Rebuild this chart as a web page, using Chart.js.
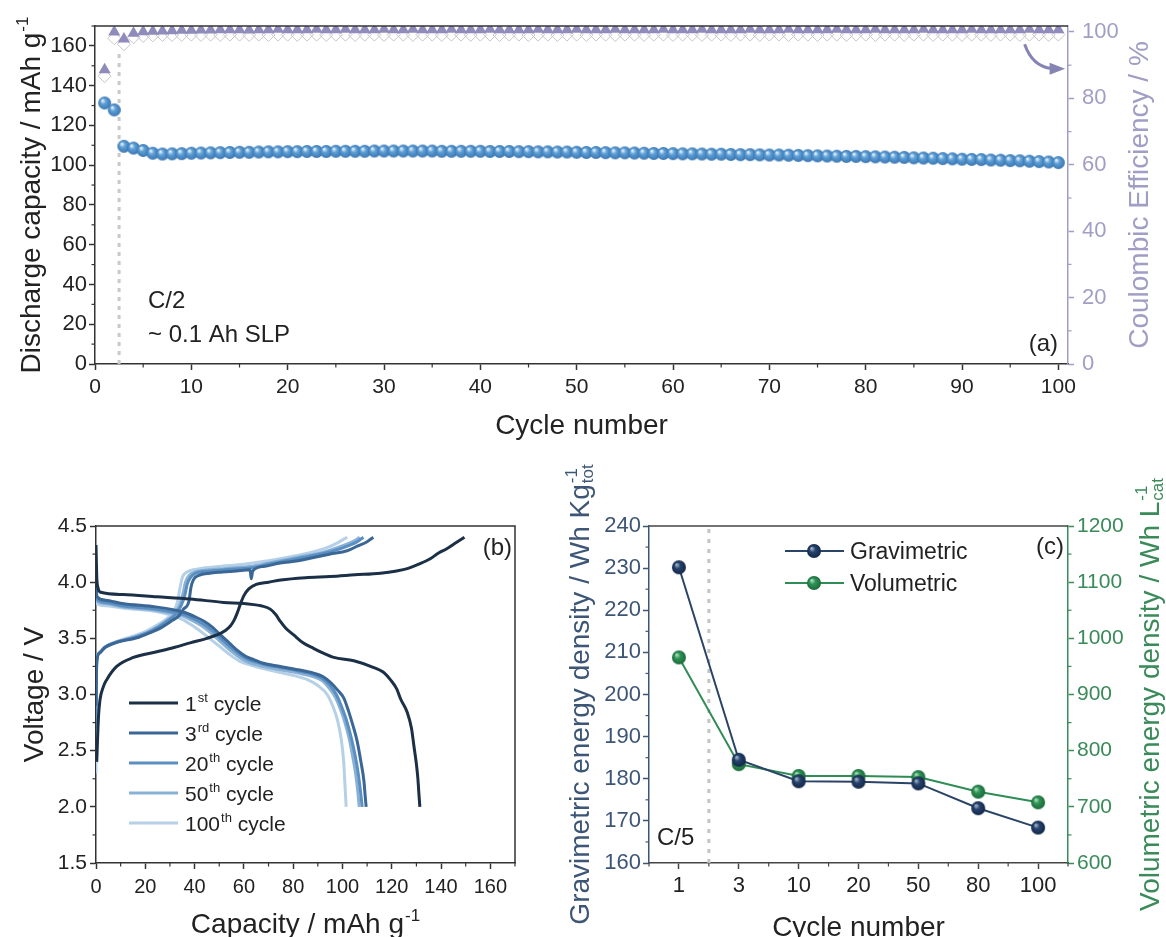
<!DOCTYPE html>
<html>
<head>
<meta charset="utf-8">
<script src="https://cdn.jsdelivr.net/npm/chart.js@4.4.1/dist/chart.umd.min.js"></script>
<style>
html, body { margin: 0; padding: 0; background: #fff; }
#wrap { position: relative; width: 1166px; height: 937px; overflow: hidden; }
canvas { position: absolute; }
</style>
</head>
<body>
<div id="wrap">
  <canvas id="chartA" width="1166" height="460" style="left:0;top:0;width:1166px;height:460px"></canvas>
  <canvas id="chartB" width="560" height="477" style="left:0;top:460px;width:560px;height:477px"></canvas>
  <canvas id="chartC" width="606" height="477" style="left:560px;top:460px;width:606px;height:477px"></canvas>
</div>
<script>
// ---- (a) cycling data ----
const cycles = Array.from({ length: 100 }, (_, i) => i + 1);

const capacity = [
  131.3, 127.8, 109.5, 108.6, 107.4, 106.0, 105.6, 105.7, 105.8, 106.0,
  106.1, 106.2, 106.3, 106.4, 106.5, 106.5, 106.6, 106.7, 106.7, 106.8,
  106.8, 106.9, 106.9, 106.9, 107.0, 107.0, 107.0, 107.0, 107.1, 107.1,
  107.1, 107.1, 107.1, 107.1, 107.1, 107.0, 107.0, 107.0, 107.0, 107.0,
  106.9, 106.9, 106.9, 106.8, 106.8, 106.7, 106.7, 106.6, 106.6, 106.5,
  106.4, 106.4, 106.3, 106.2, 106.2, 106.1, 106.0, 105.9, 105.9, 105.8,
  105.7, 105.7, 105.6, 105.5, 105.5, 105.4, 105.3, 105.3, 105.2, 105.1,
  105.1, 105.0, 104.9, 104.8, 104.7, 104.6, 104.5, 104.4, 104.4, 104.3,
  104.2, 104.1, 104.0, 103.9, 103.7, 103.6, 103.5, 103.3, 103.2, 103.0,
  102.9, 102.8, 102.6, 102.5, 102.3, 102.2, 102.0, 101.8, 101.6, 101.3
];

const ceFilled = [
  88.6, 100.0, 97.9, 99.6, 100.1, 100.2, 100.3, 100.4, 100.5, 100.5,
  100.6, 100.6, 100.7, 100.7, 100.7, 100.6, 100.7, 100.7, 100.8, 100.7,
  100.7, 100.7, 100.8, 100.7, 100.7, 100.8, 100.7, 100.7, 100.7, 100.8,
  100.7, 100.7, 100.8, 100.7, 100.7, 100.7, 100.8, 100.7, 100.7, 100.7,
  100.8, 100.7, 100.7, 100.7, 100.7, 100.8, 100.7, 100.7, 100.7, 100.8,
  100.7, 100.7, 100.7, 100.8, 100.7, 100.7, 100.7, 100.7, 100.8, 100.7,
  100.7, 100.7, 100.8, 100.7, 100.7, 100.7, 100.7, 100.8, 100.7, 100.7,
  100.7, 100.8, 100.7, 100.7, 100.7, 100.7, 100.8, 100.7, 100.7, 100.7,
  100.8, 100.7, 100.7, 100.7, 100.7, 100.8, 100.7, 100.7, 100.7, 100.7,
  100.8, 100.7, 100.7, 100.7, 100.7, 100.7, 100.8, 100.7, 100.7, 100.7
];

const ceOpen = [
  86.7, 98.1, 96.3, 98.4, 98.8, 99.0, 99.1, 99.1, 99.1, 99.2,
  99.1, 99.2, 99.1, 99.2, 99.2, 99.1, 99.2, 99.1, 99.2, 99.2,
  99.1, 99.2, 99.2, 99.1, 99.2, 99.2, 99.1, 99.2, 99.2, 99.1,
  99.2, 99.2, 99.1, 99.2, 99.2, 99.1, 99.2, 99.2, 99.1, 99.2,
  99.2, 99.1, 99.2, 99.2, 99.1, 99.2, 99.2, 99.1, 99.2, 99.2,
  99.1, 99.2, 99.2, 99.1, 99.2, 99.2, 99.1, 99.2, 99.2, 99.1,
  99.2, 99.2, 99.1, 99.2, 99.2, 99.1, 99.2, 99.2, 99.1, 99.2,
  99.2, 99.1, 99.2, 99.2, 99.1, 99.2, 99.2, 99.1, 99.2, 99.2,
  99.1, 99.2, 99.2, 99.1, 99.2, 99.2, 99.1, 99.2, 99.2, 99.1,
  99.2, 99.2, 99.1, 99.2, 99.2, 99.1, 99.2, 99.2, 99.1, 99.2
];

// ---- (b) voltage profiles, [capacity, voltage] ----
const c1Charge = [[0.3,2.4],[1,2.8],[1.6,2.95],[3,3.07],[4.3,3.13],[8.4,3.25],[15.2,3.33],[24.7,3.38],[32,3.42],[38.2,3.46],[45,3.5],[49,3.53],[52.5,3.57],[54.5,3.61],[56,3.66],[57.2,3.72],[58.5,3.8],[60,3.88],[62,3.94],[65,3.98],[70,4.0],[75,4.02],[85,4.04],[95,4.05],[105,4.065],[115.4,4.08],[122,4.1],[126.3,4.12],[131,4.16],[135.8,4.21],[139,4.26],[142.5,4.3],[146,4.35],[149.5,4.4]];
const c1Discharge = [[0,4.33],[0.3,4.05],[0.8,3.95],[1.9,3.91],[11,3.89],[24.7,3.87],[38.2,3.85],[51.8,3.82],[60,3.81],[64,3.8],[67,3.79],[70.7,3.76],[73,3.71],[74.8,3.65],[77,3.59],[80.2,3.53],[84,3.46],[88.3,3.41],[92,3.37],[96.5,3.33],[104.6,3.3],[112.7,3.24],[116.5,3.2],[119.5,3.13],[122,3.05],[123.6,2.96],[126.3,2.84],[128,2.7],[129,2.54],[130,2.38],[130.6,2.25],[131,2.12],[131.4,2.0]];
const c3Charge = [[0,2.9],[0.2,3.2],[0.4,3.31],[1.5,3.37],[3.8,3.42],[7.9,3.46],[17.4,3.51],[22,3.55],[26.8,3.6],[31,3.66],[33.6,3.7],[35.5,3.76],[37.7,3.83],[38.5,3.95],[39.5,4.02],[41.7,4.06],[46,4.08],[51.2,4.09],[57,4.1],[62.5,4.11],[63,4.03],[63.6,4.1],[68,4.14],[74.8,4.17],[82,4.19],[88.3,4.22],[95,4.25],[101.9,4.28],[106,4.32],[110,4.36],[112.5,4.4]];
const c3Discharge = [[0,4.12],[0.2,3.92],[0.4,3.87],[3.8,3.84],[10.6,3.81],[24.1,3.78],[32.3,3.75],[36,3.73],[40.4,3.69],[44,3.65],[47.2,3.6],[50.5,3.53],[54,3.46],[57.5,3.39],[60.7,3.34],[64,3.31],[67.5,3.28],[74.8,3.25],[82,3.22],[88.3,3.19],[92,3.16],[95,3.11],[98,3.04],[100.5,2.97],[102.5,2.85],[104.3,2.72],[105.9,2.59],[107.5,2.4],[108.7,2.23],[109.2,2.1],[109.6,2.0]];
const c20Charge = [[0,2.7],[0.1,3.1],[0.3,3.3],[1.4,3.37],[3.6,3.42],[7.5,3.46],[16,3.51],[21,3.55],[26,3.61],[30,3.67],[32.5,3.72],[34.5,3.79],[36,3.88],[37,3.98],[38.3,4.04],[40.5,4.08],[46,4.1],[52,4.11],[58,4.12],[64,4.13],[70,4.16],[77,4.19],[84,4.22],[91,4.25],[98,4.29],[103,4.33],[106,4.36],[108.5,4.4]];
const c20Discharge = [[0,4.1],[0.2,3.9],[0.4,3.85],[3.8,3.82],[10.6,3.79],[24,3.76],[32,3.73],[36,3.71],[40,3.67],[44,3.62],[47,3.57],[50.5,3.5],[54,3.43],[57.5,3.37],[61,3.32],[64.5,3.29],[68,3.27],[75,3.24],[82,3.21],[88,3.18],[92,3.14],[95,3.08],[97.5,3.0],[99.5,2.9],[101.5,2.78],[103.5,2.62],[105.2,2.45],[106.5,2.28],[107.4,2.12],[108,2.0]];
const c50Charge = [[0,2.5],[0.1,3.0],[0.3,3.3],[1.3,3.37],[3.5,3.42],[7.2,3.46],[15.5,3.51],[20.5,3.55],[25.5,3.61],[29.5,3.67],[32,3.72],[34,3.8],[35.3,3.9],[36.3,4.0],[37.8,4.06],[40,4.09],[46,4.11],[52,4.12],[58,4.13],[64,4.145],[70,4.17],[77,4.2],[84,4.23],[91,4.26],[97,4.3],[102,4.34],[105,4.37],[107,4.4]];
const c50Discharge = [[0,4.08],[0.2,3.88],[0.4,3.83],[3.8,3.81],[10.6,3.78],[24,3.75],[31,3.72],[35,3.7],[39,3.66],[43,3.61],[46.5,3.55],[50,3.48],[53.5,3.41],[57,3.35],[60.5,3.3],[64,3.27],[68,3.25],[75,3.22],[82,3.19],[88,3.16],[92,3.12],[94.5,3.06],[97,2.98],[99,2.88],[101,2.75],[102.8,2.6],[104.3,2.43],[105.5,2.27],[106.3,2.12],[106.8,2.0]];
const c100Charge = [[0,2.3],[0.1,2.9],[0.3,3.3],[1.3,3.37],[3.5,3.42],[7,3.46],[15,3.52],[20,3.56],[25,3.62],[29,3.68],[31.5,3.74],[33,3.82],[34,3.94],[35,4.04],[37,4.09],[42,4.12],[50,4.14],[60,4.16],[70,4.19],[80,4.23],[88,4.27],[94,4.31],[98,4.35],[101.9,4.4]];
const c100Discharge = [[0,4.06],[0.2,3.86],[0.4,3.81],[3.8,3.79],[10.6,3.77],[24,3.74],[30,3.71],[34,3.68],[38,3.63],[42,3.57],[46,3.5],[50,3.43],[54,3.36],[58,3.3],[63,3.26],[70,3.22],[80,3.17],[86,3.13],[90,3.08],[93.8,3.0],[96,2.9],[98,2.77],[99.5,2.6],[100.5,2.4],[101,2.2],[101.5,2.0]];

// ---- (c) energy density ----
const cycleLabels = ['1', '3', '10', '20', '50', '80', '100'];
const gravimetric = [230.2, 184.5, 179.4, 179.3, 178.9, 173.0, 168.4];
const volumetric = [966, 776, 755, 755, 753, 727, 708];

const FONT = '"Liberation Sans", Arial, Helvetica, sans-serif';
Chart.defaults.font.family = FONT;
Chart.defaults.font.size = 20;
Chart.defaults.color = '#222';

// shaded ball used as point marker
function sphere(r, light, base, dark) {
  const c = document.createElement('canvas');
  c.width = c.height = Math.ceil(2 * r + 2);
  const g = c.getContext('2d');
  const m = c.width / 2;
  const grad = g.createRadialGradient(m - r * 0.35, m - r * 0.4, r * 0.05, m, m, r);
  grad.addColorStop(0, light);
  grad.addColorStop(0.4, base);
  grad.addColorStop(1, dark);
  g.fillStyle = grad;
  g.beginPath();
  g.arc(m, m, r, 0, Math.PI * 2);
  g.fill();
  return c;
}

// text with superscripts / subscripts
function rich(ctx, parts, x, y, o) {
  const size = o.size || 28, small = Math.round(size * 0.62);
  ctx.save();
  ctx.translate(x, y);
  if (o.rotate) ctx.rotate(o.rotate);
  ctx.fillStyle = o.color || '#222';
  ctx.textBaseline = 'alphabetic';
  ctx.textAlign = 'left';
  const widths = parts.map(p => {
    if (typeof p === 'string') {
      ctx.font = size + 'px ' + FONT;
      return ctx.measureText(p).width;
    }
    ctx.font = small + 'px ' + FONT;
    return Math.max(p.sup ? ctx.measureText(p.sup).width : 0, p.sub ? ctx.measureText(p.sub).width : 0) + 1;
  });
  const total = widths.reduce((a, b) => a + b, 0);
  let cx = o.align === 'left' ? 0 : o.align === 'right' ? -total : -total / 2;
  const base = size * 0.36;
  parts.forEach((p, i) => {
    if (typeof p === 'string') {
      ctx.font = size + 'px ' + FONT;
      ctx.fillText(p, cx, base);
    } else {
      ctx.font = small + 'px ' + FONT;
      if (p.sup) ctx.fillText(p.sup, cx + 1, base - size * 0.42);
      if (p.sub) ctx.fillText(p.sub, cx + 1, base + size * 0.13);
    }
    cx += widths[i];
  });
  ctx.restore();
}

// minor tick marks between major ones
const minorTicks = {
  id: 'minorTicks',
  afterDraw(chart, args, opts) {
    const ctx = chart.ctx;
    for (const id in opts.axes) {
      const s = chart.scales[id], step = opts.axes[id];
      ctx.save();
      ctx.strokeStyle = s.options.border.color;
      ctx.lineWidth = 1.2;
      for (let k = Math.ceil(s.min / step - 1e-9); k * step <= s.max + 1e-9; k++) {
        const v = k * step;
        if (s.ticks.some(t => Math.abs(t.value - v) < 1e-6)) continue;
        const p = s.getPixelForValue(v);
        ctx.beginPath();
        if (s.position === 'bottom') { ctx.moveTo(p, s.top); ctx.lineTo(p, s.top + 3.5); }
        else if (s.position === 'left') { ctx.moveTo(s.right, p); ctx.lineTo(s.right - 3.5, p); }
        else { ctx.moveTo(s.left, p); ctx.lineTo(s.left + 3.5, p); }
        ctx.stroke();
      }
      ctx.restore();
    }
  }
};
Chart.register(minorTicks);

function axisStyle(color) {
  return {
    grid: { drawOnChartArea: false, drawTicks: true, tickLength: 6, tickWidth: 1.5, tickColor: color },
    border: { display: true, color: color, width: 1.5 }
  };
}
const toXY = (xs, ys) => xs.map((x, i) => ({ x: x, y: ys[i] }));
const pairs = arr => arr.map(p => ({ x: p[0], y: p[1] }));
const plain = v => String(v);

// ---------------- (a) ----------------
const lav = '#a19ec6';
const decorA = {
  id: 'decorA',
  beforeDatasetsDraw(chart) {
    const { ctx, scales: { x, y } } = chart;
    ctx.save();
    ctx.strokeStyle = '#c9c9c9';
    ctx.lineWidth = 3;
    ctx.setLineDash([4, 5]);
    ctx.beginPath();
    ctx.moveTo(x.getPixelForValue(2.5), y.getPixelForValue(0));
    ctx.lineTo(x.getPixelForValue(2.5), y.getPixelForValue(158));
    ctx.stroke();
    ctx.restore();
  },
  afterDraw(chart) {
    const { ctx, chartArea: a, scales: { x, y1 } } = chart;
    ctx.save();
    ctx.strokeStyle = '#333';
    ctx.lineWidth = 1.5;
    ctx.beginPath();
    ctx.moveTo(a.left, a.top);
    ctx.lineTo(a.right, a.top);
    ctx.stroke();
    // curved arrow pointing to the efficiency axis
    ctx.strokeStyle = '#8683b5';
    ctx.fillStyle = '#8683b5';
    ctx.lineWidth = 3;
    const x0 = x.getPixelForValue(96.5), yy0 = y1.getPixelForValue(96.3);
    const xc = x.getPixelForValue(97.3), yc = y1.getPixelForValue(89.6);
    const x1 = x.getPixelForValue(99.3), yy1 = y1.getPixelForValue(89.0);
    ctx.beginPath();
    ctx.moveTo(x0, yy0);
    ctx.quadraticCurveTo(xc, yc, x1, yy1);
    ctx.stroke();
    const tip = x.getPixelForValue(100.7), ty = y1.getPixelForValue(88.9);
    ctx.beginPath();
    ctx.moveTo(tip, ty);
    ctx.lineTo(x1 - 2, ty - 6);
    ctx.lineTo(x1 - 2, ty + 6);
    ctx.closePath();
    ctx.fill();
    ctx.restore();

    rich(ctx, ['C/2'], a.left + 53, 299, { size: 24, align: 'left' });
    rich(ctx, ['~ 0.1 Ah SLP'], a.left + 53, 333, { size: 24, align: 'left' });
    rich(ctx, ['(a)'], a.right - 10, 342, { size: 24, align: 'right' });
    rich(ctx, ['Discharge capacity / mAh g', { sup: '-1' }], 30, (a.top + a.bottom) / 2, { size: 28, rotate: -Math.PI / 2 });
    rich(ctx, ['Coulombic Efficiency / %'], 1138, (a.top + a.bottom) / 2, { size: 28, rotate: -Math.PI / 2, color: lav });
    rich(ctx, ['Cycle number'], (a.left + a.right) / 2, 424, { size: 28 });
  }
};

new Chart(document.getElementById('chartA'), {
  type: 'line',
  data: {
    datasets: [
      {
        label: 'Coulombic efficiency',
        data: toXY(cycles, ceFilled),
        yAxisID: 'y1',
        showLine: false,
        pointStyle: 'triangle',
        pointRadius: 7,
        pointBackgroundColor: '#8f8bbb',
        pointBorderColor: '#8f8bbb',
        pointBorderWidth: 0
      },
      {
        label: 'Efficiency (open)',
        data: toXY(cycles, ceOpen),
        yAxisID: 'y1',
        showLine: false,
        pointStyle: 'rectRot',
        pointRadius: 6.5,
        pointBackgroundColor: 'rgba(255,255,255,0)',
        pointBorderColor: '#c6c6c6',
        pointBorderWidth: 1
      },
      {
        label: 'Discharge capacity',
        data: toXY(cycles, capacity),
        yAxisID: 'y',
        showLine: false,
        pointStyle: sphere(6.5, '#eef6fc', '#5d9fd6', '#3a76b2'),
        pointRadius: 6.5
      }
    ]
  },
  options: {
    responsive: false,
    animation: false,
    devicePixelRatio: 1,
    layout: { padding: { top: 26, left: 0, right: 0, bottom: 0 } },
    plugins: {
      legend: { display: false },
      tooltip: { enabled: false },
      minorTicks: { axes: { x: 5, y: 10, y1: 10 } }
    },
    scales: {
      x: {
        type: 'linear', min: 0, max: 101,
        ticks: { stepSize: 10, includeBounds: false, padding: 5, color: '#222', maxRotation: 0, font: { size: 21 } },
        ...axisStyle('#333'),
        afterFit: s => { s.height = 96; }
      },
      y: {
        position: 'left', min: 0, max: 170,
        ticks: { stepSize: 20, includeBounds: false, padding: 2, color: '#222', font: { size: 22 } },
        ...axisStyle('#333'),
        afterFit: s => { s.width = 95; }
      },
      y1: {
        position: 'right', min: 0, max: 101.8,
        ticks: { stepSize: 20, includeBounds: false, padding: 8, color: lav, font: { size: 22 } },
        ...axisStyle(lav),
        afterFit: s => { s.width = 98; }
      }
    }
  },
  plugins: [decorA]
});

// ---------------- (b) ----------------
const profileColors = ['#1b2f47', '#3b6797', '#5b8fc2', '#89b1d6', '#b5d0e7'];
const profileNames = [['1', { sup: 'st' }, ' cycle'], ['3', { sup: 'rd' }, ' cycle'], ['20', { sup: 'th' }, ' cycle'], ['50', { sup: 'th' }, ' cycle'], ['100', { sup: 'th' }, ' cycle']];
const profiles = [
  [c1Charge, c1Discharge],
  [c3Charge, c3Discharge],
  [c20Charge, c20Discharge],
  [c50Charge, c50Discharge],
  [c100Charge, c100Discharge]
];

const decorB = {
  id: 'decorB',
  afterDraw(chart) {
    const { ctx, chartArea: a } = chart;
    ctx.save();
    ctx.strokeStyle = '#333';
    ctx.lineWidth = 1.5;
    ctx.beginPath();
    ctx.moveTo(a.left, a.top);
    ctx.lineTo(a.right, a.top);
    ctx.lineTo(a.right, a.bottom);
    ctx.stroke();
    ctx.lineWidth = 3;
    profileColors.forEach((c, i) => {
      const yy = 243 + i * 30;
      ctx.strokeStyle = c;
      ctx.beginPath();
      ctx.moveTo(129, yy);
      ctx.lineTo(178, yy);
      ctx.stroke();
      rich(ctx, profileNames[i], 185, yy, { size: 21, align: 'left' });
    });
    ctx.restore();
    rich(ctx, ['(b)'], a.right - 3, 86, { size: 24, align: 'right' });
    rich(ctx, ['Voltage / V'], 33, (a.top + a.bottom) / 2, { size: 28, rotate: -Math.PI / 2 });
    rich(ctx, ['Capacity / mAh g', { sup: '-1' }], (a.left + a.right) / 2, 463, { size: 28 });
  }
};

const datasetsB = [];
profiles.forEach((pr, i) => {
  pr.forEach(curve => {
    datasetsB.push({
      data: pairs(curve),
      borderColor: profileColors[i],
      borderWidth: 3,
      pointRadius: 0,
      cubicInterpolationMode: 'monotone',
      fill: false
    });
  });
});

new Chart(document.getElementById('chartB'), {
  type: 'line',
  data: { datasets: datasetsB },
  options: {
    responsive: false,
    animation: false,
    devicePixelRatio: 1,
    layout: { padding: { top: 66, left: 0, right: 45, bottom: 0 } },
    plugins: {
      legend: { display: false },
      tooltip: { enabled: false },
      minorTicks: { axes: { x: 10, y: 0.25 } }
    },
    scales: {
      x: {
        type: 'linear', min: 0, max: 170,
        ticks: { stepSize: 20, includeBounds: false, padding: 6, color: '#222', maxRotation: 0 },
        ...axisStyle('#333'),
        afterFit: s => { s.height = 74; }
      },
      y: {
        min: 1.5, max: 4.5,
        ticks: { stepSize: 0.5, padding: 3, color: '#222', font: { size: 21 }, callback: v => v.toFixed(1) },
        ...axisStyle('#333'),
        afterFit: s => { s.width = 96; }
      }
    }
  },
  plugins: [decorB]
});

// ---------------- (c) ----------------
const navy = '#2a4468', green = '#2f8c55';
const gravAxis = '#3d5676', volAxis = '#3a8a5a';
const ballNavy = sphere(7, '#a9b9d0', '#27446b', '#13264a');
const ballGreen = sphere(7, '#b0e2bf', '#2f9257', '#1a6a38');

const decorC = {
  id: 'decorC',
  beforeDatasetsDraw(chart) {
    const { ctx, chartArea: a, scales: { x } } = chart;
    ctx.save();
    ctx.strokeStyle = '#c4c4c4';
    ctx.lineWidth = 3;
    ctx.setLineDash([4, 6]);
    ctx.beginPath();
    ctx.moveTo(x.getPixelForValue(0.5), a.bottom);
    ctx.lineTo(x.getPixelForValue(0.5), a.top);
    ctx.stroke();
    ctx.restore();
  },
  afterDraw(chart) {
    const { ctx, chartArea: a } = chart;
    ctx.save();
    ctx.strokeStyle = '#444';
    ctx.lineWidth = 1.5;
    ctx.beginPath();
    ctx.moveTo(a.left, a.top);
    ctx.lineTo(a.right, a.top);
    ctx.stroke();
    [[navy, ballNavy, 'Gravimetric', 91], [green, ballGreen, 'Volumetric', 123]].forEach(([col, ball, name, yy]) => {
      ctx.strokeStyle = col;
      ctx.lineWidth = 2;
      ctx.beginPath();
      ctx.moveTo(225, yy);
      ctx.lineTo(284, yy);
      ctx.stroke();
      ctx.drawImage(ball, 254 - ball.width / 2, yy - ball.height / 2);
      rich(ctx, [name], 290, yy, { size: 23, align: 'left' });
    });
    ctx.restore();
    rich(ctx, ['C/5'], 97, 376, { size: 24, align: 'left' });
    rich(ctx, ['(c)'], a.right - 4, 85, { size: 24, align: 'right' });
    rich(ctx, ['Gravimetric energy density / Wh Kg', { sup: '-1', sub: 'tot' }], 19, (a.top + a.bottom) / 2, { size: 28, rotate: -Math.PI / 2, color: gravAxis });
    rich(ctx, ['Volumetric energy density / Wh L', { sup: '-1', sub: 'cat' }], 589, (a.top + a.bottom) / 2, { size: 28, rotate: -Math.PI / 2, color: volAxis });
    rich(ctx, ['Cycle number'], (a.left + a.right) / 2, 466, { size: 28 });
  }
};

new Chart(document.getElementById('chartC'), {
  type: 'line',
  data: {
    datasets: [
      {
        label: 'Gravimetric',
        data: toXY(cycleLabels.map((_, i) => i), gravimetric),
        yAxisID: 'y',
        borderColor: navy,
        borderWidth: 2,
        pointStyle: ballNavy,
        pointRadius: 7,
        tension: 0
      },
      {
        label: 'Volumetric',
        data: toXY(cycleLabels.map((_, i) => i), volumetric),
        yAxisID: 'y1',
        borderColor: green,
        borderWidth: 2,
        pointStyle: ballGreen,
        pointRadius: 7,
        tension: 0
      }
    ]
  },
  options: {
    responsive: false,
    animation: false,
    devicePixelRatio: 1,
    layout: { padding: { top: 66, left: 0, right: 0, bottom: 0 } },
    plugins: {
      legend: { display: false },
      tooltip: { enabled: false },
      minorTicks: { axes: { x: 0.5, y: 5, y1: 50 } }
    },
    scales: {
      x: {
        type: 'linear', min: -0.5, max: 6.5,
        ticks: { padding: 4, color: '#222', maxRotation: 0, autoSkip: false, font: { size: 22 }, callback: v => cycleLabels[v] },
        ...axisStyle('#444'),
        afterBuildTicks: s => { s.ticks = cycleLabels.map((_, i) => ({ value: i })); },
        afterFit: s => { s.height = 74; }
      },
      y: {
        position: 'left', min: 160, max: 240,
        ticks: { stepSize: 10, padding: 2, color: gravAxis, font: { size: 22 }, callback: plain },
        ...axisStyle(gravAxis),
        afterFit: s => { s.width = 89; }
      },
      y1: {
        position: 'right', min: 600, max: 1200,
        ticks: { stepSize: 100, padding: 3, color: volAxis, font: { size: 21 }, callback: plain },
        ...axisStyle(volAxis),
        afterFit: s => { s.width = 98; }
      }
    }
  },
  plugins: [decorC]
});
</script>
</body>
</html>
